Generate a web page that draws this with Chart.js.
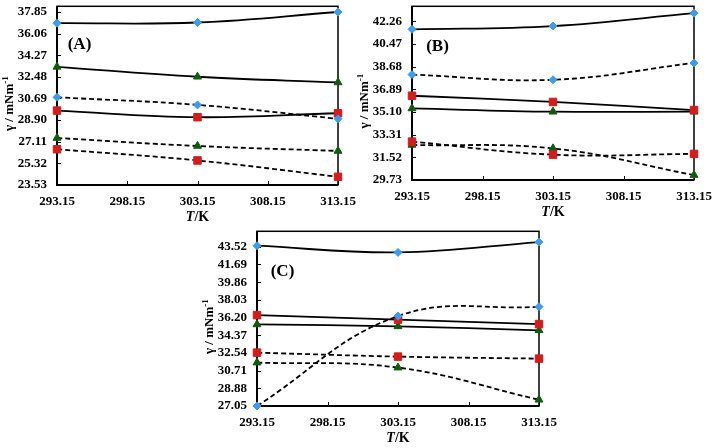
<!DOCTYPE html>
<html>
<head>
<meta charset="utf-8">
<script src="https://cdn.jsdelivr.net/npm/chart.js@4.4.0/dist/chart.umd.min.js"></script>
<style>
  html, body { margin: 0; padding: 0; background: #fff; }
  body { width: 712px; height: 448px; position: relative; overflow: hidden; }
  canvas { position: absolute; }
</style>
</head>
<body>
<canvas id="chartA" width="360" height="225" style="left:0;top:0"></canvas>
<canvas id="chartB" width="357" height="225" style="left:355px;top:0"></canvas>
<canvas id="chartC" width="360" height="223" style="left:200px;top:225px"></canvas>
<script>
// Shared x axis (temperature)
const temps = [293.15, 303.15, 313.15];
const xTicks = [293.15, 298.15, 303.15, 308.15, 313.15];

// Panel A
const aTicks = [23.53, 25.32, 27.11, 28.90, 30.69, 32.48, 34.27, 36.06, 37.85];
const aBlueSolid = [36.92, 36.98, 37.85];
const aGreenSolid = [33.31, 32.49, 32.02];
const aBlueDash = [30.79, 30.16, 29.01];
const aRedSolid = [29.69, 29.14, 29.47];
const aGreenDash = [27.42, 26.76, 26.35];
const aRedDash = [26.49, 25.56, 24.21];

// Panel B
const bTicks = [29.73, 31.52, 33.31, 35.10, 36.89, 38.68, 40.47, 42.26];
const bBlueSolid = [41.62, 41.88, 42.90];
const bBlueDash = [38.05, 37.64, 38.97];
const bRedSolid = [36.38, 35.89, 35.25];
const bGreenSolid = [35.38, 35.12, 35.12];
const bRedDash = [32.76, 31.73, 31.79];
const bGreenDash = [32.50, 32.22, 30.12];

// Panel C
const cTicks = [27.05, 28.88, 30.71, 32.54, 34.37, 36.20, 38.03, 39.86, 41.69, 43.52];
const cBlueSolid = [43.63, 42.94, 44.01];
const cBlueDash = [27.05, 36.35, 37.32];
const cRedSolid = [36.45, 35.98, 35.52];
const cGreenSolid = [35.49, 35.29, 34.88];
const cRedDash = [32.57, 32.16, 31.95];
const cGreenDash = [31.54, 31.02, 27.70];

const BLUE = '#3b9cf2';
const RED = '#d41c1c';
const GREEN = '#0f5c0f';
const FONT = '"Liberation Serif", "Times New Roman", serif';

const MARKERS = {
  blue: { style: 'rectRot', radius: 4, color: BLUE },
  red: { style: 'rect', radius: 5.3, color: RED },
  green: { style: 'triangle', radius: 4.6, color: GREEN }
};

function series(vals, marker, dashed) {
  const m = MARKERS[marker];
  return {
    data: temps.map((t, i) => ({ x: t, y: vals[i] })),
    borderColor: '#000',
    borderWidth: 1.8,
    borderDash: dashed ? [5, 3] : [],
    tension: 0.4,
    fill: false,
    clip: false,
    pointStyle: m.style,
    pointRadius: m.radius,
    pointBackgroundColor: m.color,
    pointBorderColor: m.color,
    pointBorderWidth: 1
  };
}

// frame, inner tick marks and texts
const decoPlugin = {
  id: 'deco',
  beforeDatasetsDraw(chart) {
    const { ctx, chartArea: a, scales } = chart;
    ctx.save();
    ctx.strokeStyle = '#000';
    ctx.lineWidth = 1.5;
    ctx.strokeRect(a.left, a.top, a.right - a.left, a.bottom - a.top);
    ctx.lineWidth = 2;
    ctx.beginPath();
    ctx.moveTo(a.left, a.top);
    ctx.lineTo(a.left, a.bottom);
    ctx.lineTo(a.right, a.bottom);
    ctx.stroke();
    ctx.lineWidth = 1;
    ctx.beginPath();
    scales.y.ticks.forEach(t => {
      const y = Math.round(scales.y.getPixelForValue(t.value)) + 0.5;
      ctx.moveTo(a.left, y);
      ctx.lineTo(a.left + 4, y);
    });
    scales.x.ticks.forEach(t => {
      const x = Math.round(scales.x.getPixelForValue(t.value)) + 0.5;
      ctx.moveTo(x, a.bottom);
      ctx.lineTo(x, a.bottom - 4);
    });
    ctx.stroke();
    ctx.restore();
  },
  afterDraw(chart) {
    const { ctx, chartArea: a } = chart;
    const opts = chart.options.plugins.deco;
    ctx.save();
    ctx.fillStyle = '#000';
    ctx.textBaseline = 'middle';

    // panel label
    ctx.font = 'bold 17px ' + FONT;
    ctx.textAlign = 'center';
    ctx.fillText(opts.label, a.left + opts.labelDx, a.top + opts.labelDy);

    // x title: italic T + /K
    const xt = (a.left + a.right) / 2;
    const yt = a.bottom + 32;
    ctx.font = 'italic bold 14px ' + FONT;
    const wT = ctx.measureText('T').width;
    ctx.font = 'bold 14px ' + FONT;
    const wK = ctx.measureText('/K').width;
    const sx = xt - (wT + wK) / 2;
    ctx.textAlign = 'left';
    ctx.font = 'italic bold 14px ' + FONT;
    ctx.fillText('T', sx, yt);
    ctx.font = 'bold 14px ' + FONT;
    ctx.fillText('/K', sx + wT, yt);

    // y title
    ctx.translate(a.left - 47, (a.top + a.bottom) / 2 + 8);
    ctx.rotate(-Math.PI / 2);
    ctx.font = 'bold 13px ' + FONT;
    const main = 'γ / mNm';
    const wMain = ctx.measureText(main).width;
    ctx.font = 'bold 9px ' + FONT;
    const wSup = ctx.measureText('-1').width;
    const st = -(wMain + wSup) / 2;
    ctx.font = 'bold 13px ' + FONT;
    ctx.fillText(main, st, 0);
    ctx.font = 'bold 9px ' + FONT;
    ctx.fillText('-1', st + wMain, -4);
    ctx.restore();
  }
};

function makeChart(id, cfg) {
  return new Chart(document.getElementById(id), {
    type: 'line',
    data: { datasets: cfg.datasets },
    options: {
      responsive: false,
      animation: false,
      layout: { padding: cfg.padding },
      plugins: {
        legend: { display: false },
        tooltip: { enabled: false },
        deco: { label: cfg.label, labelDx: cfg.labelDx, labelDy: cfg.labelDy }
      },
      scales: {
        x: {
          type: 'linear',
          min: 293.15,
          max: 313.15,
          grid: { display: false, drawTicks: false },
          border: { display: false },
          afterBuildTicks: s => { s.ticks = xTicks.map(v => ({ value: v })); },
          afterFit: s => { s.height = cfg.xHeight; s.paddingLeft = 0; s.paddingRight = 0; },
          ticks: {
            padding: 9,
            maxRotation: 0,
            color: '#000',
            font: { family: FONT, size: 13, weight: 'bold' },
            callback: v => v.toFixed(2)
          }
        },
        y: {
          type: 'linear',
          min: cfg.min,
          max: cfg.max,
          grid: { display: false, drawTicks: false },
          border: { display: false },
          afterBuildTicks: s => { s.ticks = cfg.ticks.map(v => ({ value: v })); },
          afterFit: s => { s.width = 57; s.paddingTop = 0; s.paddingBottom = 0; },
          ticks: {
            padding: 10,
            color: '#000',
            font: { family: FONT, size: 13, weight: 'bold' },
            callback: v => v.toFixed(2)
          }
        }
      }
    },
    plugins: [decoPlugin]
  });
}

makeChart('chartA', {
  label: '(A)', labelDx: 22.5, labelDy: 38,
  min: 23.53, max: 38.32, ticks: aTicks,
  padding: { left: 0, top: 5, right: 22, bottom: 0 }, xHeight: 40,
  datasets: [
    series(aBlueSolid, 'blue', false),
    series(aGreenSolid, 'green', false),
    series(aBlueDash, 'blue', true),
    series(aRedSolid, 'red', false),
    series(aGreenDash, 'green', true),
    series(aRedDash, 'red', true)
  ]
});

makeChart('chartB', {
  label: '(B)', labelDx: 25.5, labelDy: 40,
  min: 29.73, max: 43.44, ticks: bTicks,
  padding: { left: 0, top: 2, right: 18, bottom: 0 }, xHeight: 45,
  datasets: [
    series(bBlueSolid, 'blue', false),
    series(bBlueDash, 'blue', true),
    series(bRedSolid, 'red', false),
    series(bGreenSolid, 'green', false),
    series(bRedDash, 'red', true),
    series(bGreenDash, 'green', true)
  ]
});

makeChart('chartC', {
  label: '(C)', labelDx: 25.5, labelDy: 40,
  min: 27.05, max: 45.12, ticks: cTicks,
  padding: { left: 0, top: 5, right: 21, bottom: 0 }, xHeight: 42,
  datasets: [
    series(cBlueSolid, 'blue', false),
    series(cBlueDash, 'blue', true),
    series(cRedSolid, 'red', false),
    series(cGreenSolid, 'green', false),
    series(cRedDash, 'red', true),
    series(cGreenDash, 'green', true)
  ]
});
</script>
</body>
</html>
